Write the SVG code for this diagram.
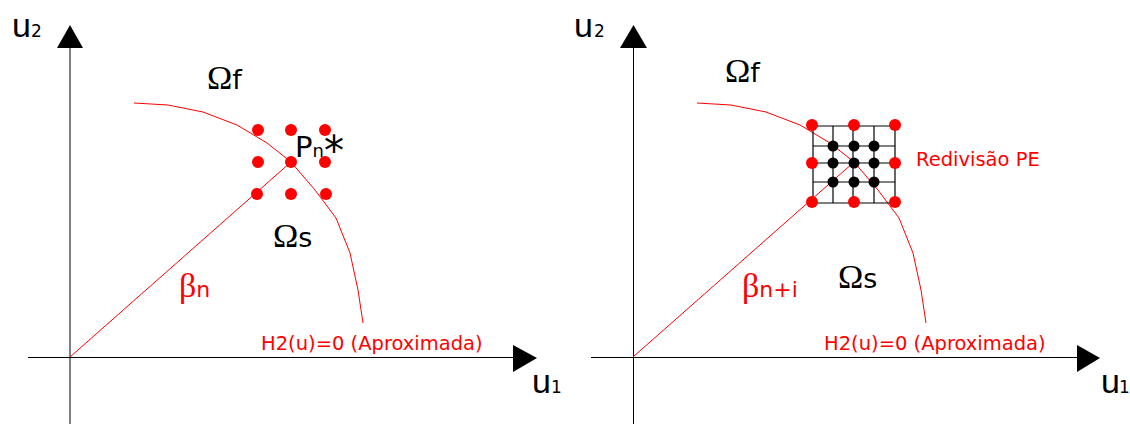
<svg xmlns="http://www.w3.org/2000/svg" width="1130" height="424" viewBox="0 0 1130 424">
<style>
.ax{stroke:#000;stroke-width:1;fill:none}
.rl{stroke:#ff0000;stroke-width:1;fill:none}
.ah{fill:#000}
.rd{fill:#ff0000}
.bd{fill:#000}
.gr{stroke:#000;stroke-width:1.2;fill:none}
.big{font-family:"Liberation Sans",Arial,sans-serif;font-size:34px;fill:#000}
.sub{font-family:"DejaVu Sans",Verdana,sans-serif;font-size:17px;fill:#000}
.om{font-family:"Liberation Serif","Times New Roman",serif;font-size:34px}
.lt{font-family:"DejaVu Sans",Verdana,sans-serif;font-size:27px;fill:#000}
.rt{font-family:"DejaVu Sans",Verdana,sans-serif;font-size:19.5px;fill:#ff0000}
.beta{font-family:"Liberation Serif","Times New Roman",serif;font-size:34px;fill:#ff0000}
.bsub{font-family:"DejaVu Sans",Verdana,sans-serif;font-size:22px;fill:#ff0000}
</style>
<g id="connectors">
  <line class="ax" x1="70" y1="48" x2="70" y2="424"/>
  <line class="ax" x1="28" y1="357.5" x2="514" y2="357.5"/>
  <polygon class="ah" points="70,25 57,48 83,48"/>
  <polygon class="ah" points="537,358 513,345 513,372"/>
  <line class="ax" x1="633.5" y1="48" x2="633.5" y2="424"/>
  <line class="ax" x1="591" y1="357.5" x2="1077" y2="357.5"/>
  <polygon class="ah" points="633.5,25 620,48 647,48"/>
  <polygon class="ah" points="1100,358 1077,345 1077,372"/>
  <polyline class="rl" points="134,103 168,105 203,112 237,125 267,143 291,162 315,190 336,218 350,253 358,290 363,323"/>
  <line class="rl" x1="70" y1="357" x2="291" y2="162"/>
  <polyline class="rl" points="697,103 731,105 766,112 800,125 830,143 854,162 878,190 899,218 913,253 921,290 926,323"/>
  <line class="rl" x1="633" y1="357" x2="854" y2="162"/>
</g>
<g id="axis-labels-left">
  <text class="big" x="12" y="37">u</text><text class="sub" x="31" y="37">2</text>
  <text class="big" x="532" y="393">u</text><text class="sub" x="551" y="393">1</text>
</g>
<g id="axis-labels-right">
  <text class="big" x="574" y="37">u</text><text class="sub" x="594" y="37">2</text>
  <text class="big" x="1101" y="393">u</text><text class="sub" x="1119" y="393">1</text>
</g>
<g id="omega-f-left"><text class="lt" x="207" y="89"><tspan class="om">Ω</tspan>f</text></g>
<g id="omega-s-left"><text class="lt" x="273" y="247"><tspan class="om">Ω</tspan>s</text></g>
<g id="omega-f-right"><text class="lt" x="725" y="82"><tspan class="om">Ω</tspan>f</text></g>
<g id="omega-s-right"><text class="lt" x="838" y="288"><tspan class="om">Ω</tspan>s</text></g>
<g id="beta-left"><text class="beta" x="179" y="297">β<tspan class="bsub">n</tspan></text></g>
<g id="beta-right"><text class="beta" x="742" y="297">β<tspan class="bsub">n+i</tspan></text></g>
<g id="label-h2-left"><text class="rt" x="261" y="350">H2(u)=0 (Aproximada)</text></g>
<g id="label-h2-right"><text class="rt" x="824" y="350">H2(u)=0 (Aproximada)</text></g>
<g id="label-redivisao"><text class="rt" x="916" y="166">Redivisão PE</text></g>
<g id="label-pn">
  <text class="lt" x="295" y="157" style="font-size:29px">P<tspan style="font-size:18px">n</tspan></text>
  <text class="lt" x="324" y="165" style="font-size:40px">*</text>
</g>
<g id="points-left">
  <circle class="rd" cx="258" cy="130" r="6"/>
  <circle class="rd" cx="291" cy="130" r="6"/>
  <circle class="rd" cx="325" cy="130" r="6"/>
  <circle class="rd" cx="258" cy="162" r="6"/>
  <circle class="rd" cx="291" cy="162" r="6"/>
  <circle class="rd" cx="325" cy="162" r="6"/>
  <circle class="rd" cx="257" cy="194" r="6"/>
  <circle class="rd" cx="291" cy="194" r="6"/>
  <circle class="rd" cx="326" cy="194" r="6"/>
</g>
<g id="grid-right">
  <line class="gr" x1="813" y1="126" x2="895" y2="126"/>
  <line class="gr" x1="813" y1="146" x2="895" y2="146"/>
  <line class="gr" x1="813" y1="163" x2="895" y2="163"/>
  <line class="gr" x1="813" y1="182" x2="895" y2="182"/>
  <line class="gr" x1="813" y1="203" x2="895" y2="203"/>
  <line class="gr" x1="813" y1="126" x2="813" y2="203"/>
  <line class="gr" x1="833" y1="126" x2="833" y2="203"/>
  <line class="gr" x1="853" y1="126" x2="853" y2="203"/>
  <line class="gr" x1="874" y1="126" x2="874" y2="203"/>
  <line class="gr" x1="895" y1="126" x2="895" y2="203"/>
</g>
<g id="points-right">
  <circle class="rd" cx="812" cy="125" r="6"/>
  <circle class="rd" cx="854" cy="125" r="6"/>
  <circle class="rd" cx="895" cy="125" r="6"/>
  <circle class="rd" cx="812" cy="163" r="6"/>
  <circle class="rd" cx="895" cy="163" r="6"/>
  <circle class="rd" cx="812" cy="202" r="6"/>
  <circle class="rd" cx="854" cy="202" r="6"/>
  <circle class="rd" cx="895" cy="202" r="6"/>
  <circle class="bd" cx="833" cy="146" r="5.5"/>
  <circle class="bd" cx="854" cy="146" r="5.5"/>
  <circle class="bd" cx="874" cy="146" r="5.5"/>
  <circle class="bd" cx="833" cy="163" r="5.5"/>
  <circle class="bd" cx="854" cy="163" r="5.5"/>
  <circle class="bd" cx="874" cy="163" r="5.5"/>
  <circle class="bd" cx="833" cy="182" r="5.5"/>
  <circle class="bd" cx="854" cy="182" r="5.5"/>
  <circle class="bd" cx="874" cy="182" r="5.5"/>
</g>
</svg>
